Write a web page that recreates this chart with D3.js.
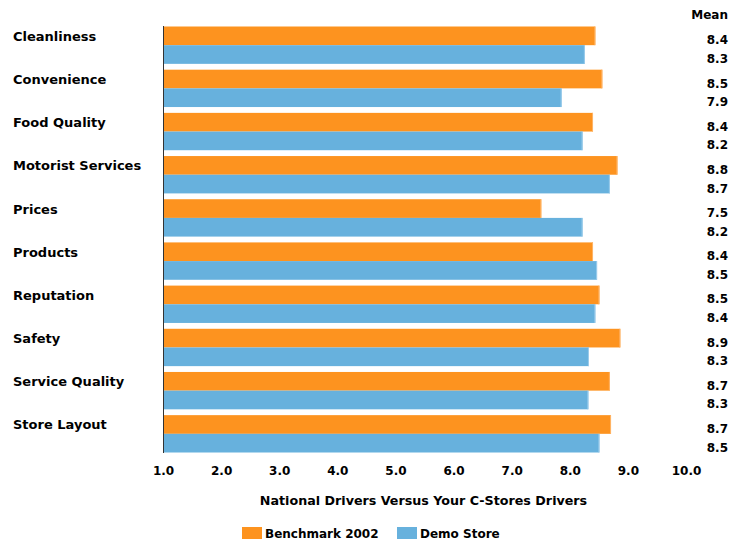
<!DOCTYPE html>
<html>
<head>
<meta charset="utf-8">
<script src="https://cdn.jsdelivr.net/npm/d3@7"></script>
<style>
  html, body { margin: 0; padding: 0; background: #fff; }
  svg text { font-family: "DejaVu Sans", Verdana, sans-serif; font-weight: bold; font-size: 12px; fill: #000; }
</style>
</head>
<body>
<svg id="chart" width="743" height="542"></svg>
<script>
const categories = ["Cleanliness", "Convenience", "Food Quality", "Motorist Services", "Prices",
  "Products", "Reputation", "Safety", "Service Quality", "Store Layout"];
const seriesNames = ["Benchmark 2002", "Demo Store"];
const benchmark = [8.44, 8.56, 8.40, 8.82, 7.51, 8.40, 8.51, 8.87, 8.69, 8.71];
const demoStore = [8.26, 7.86, 8.22, 8.69, 8.22, 8.47, 8.44, 8.33, 8.32, 8.51];
const benchmarkLabels = ["8.4", "8.5", "8.4", "8.8", "7.5", "8.4", "8.5", "8.9", "8.7", "8.7"];
const demoLabels = ["8.3", "7.9", "8.2", "8.7", "8.2", "8.5", "8.4", "8.3", "8.3", "8.5"];
const tickValues = [1, 2, 3, 4, 5, 6, 7, 8, 9, 10];
const colors = ["#FD931F", "#67B1DD"];
const strokeColors = ["#FFB466", "#9CCCEB"];
const axisTitle = "National Drivers Versus Your C-Stores Drivers";
const meanTitle = "Mean";

const svg = d3.select("#chart");
const x = d3.scaleLinear().domain([1, 10]).range([163, 686]);
const y = d3.scaleBand().domain(categories).range([26.5, 452.5]).paddingInner(0.135).paddingOuter(0);
const ySub = d3.scaleBand().domain(seriesNames).range([0, y.bandwidth()]).padding(0);

const rows = categories.map((c, i) => ({
  cat: c,
  vals: [
    { s: seriesNames[0], v: benchmark[i], label: benchmarkLabels[i], k: 0 },
    { s: seriesNames[1], v: demoStore[i], label: demoLabels[i], k: 1 }
  ]
}));

const g = svg.selectAll("g.row").data(rows).join("g")
  .attr("class", "row")
  .attr("transform", d => `translate(0,${y(d.cat)})`);

g.selectAll("rect").data(d => d.vals).join("rect")
  .attr("x", x(1))
  .attr("y", d => ySub(d.s))
  .attr("width", d => x(d.v) - x(1))
  .attr("height", ySub.bandwidth())
  .attr("fill", d => colors[d.k]);

g.selectAll("line.edge").data(d => d.vals).join("line")
  .attr("class", "edge")
  .attr("x1", d => x(d.v) - 0.5).attr("x2", d => x(d.v) - 0.5)
  .attr("y1", d => ySub(d.s)).attr("y2", d => ySub(d.s) + ySub.bandwidth())
  .attr("stroke", d => strokeColors[d.k]).attr("stroke-width", 1);

// category labels
g.append("text")
  .attr("x", 13)
  .attr("y", ySub(seriesNames[0]) + ySub.bandwidth() / 2 + 5)
  .style("font-size", "13px")
  .text(d => d.cat);

// mean value labels
g.selectAll("text.val").data(d => d.vals).join("text")
  .attr("class", "val")
  .attr("x", 728)
  .attr("text-anchor", "end")
  .attr("y", d => ySub(d.s) + ySub.bandwidth() / 2 + 8.5)
  .text(d => d.label);

svg.append("text").attr("x", 728).attr("y", 19).attr("text-anchor", "end").text(meanTitle);

// vertical axis line
const yAxis = d3.axisLeft(y).tickSize(0).tickFormat("");
svg.append("g").attr("transform", `translate(${x(1)},0)`).call(yAxis)
  .call(a => a.select(".domain").attr("d", `M0.5,26V453`).attr("stroke", "#333").attr("stroke-width", 1));

// bottom ticks
const xAxis = d3.axisBottom(x).tickValues(tickValues).tickSize(0).tickPadding(3).tickFormat(d3.format(".1f"));
svg.append("g").attr("transform", "translate(0,463.5)").call(xAxis)
  .call(a => a.select(".domain").remove())
  .call(a => a.selectAll("text")
    .style("font-family", "'DejaVu Sans', Verdana, sans-serif")
    .style("font-weight", "bold").style("font-size", "12px").attr("fill", "#000"));

svg.append("text").attr("x", (x(1) + x(10)) / 2 - 1).attr("y", 505).attr("text-anchor", "middle")
  .style("font-size", "12.7px").text(axisTitle);

// legend
const legendX = [242, 397];
const lg = svg.selectAll("g.legend").data(seriesNames).join("g")
  .attr("class", "legend")
  .attr("transform", (d, i) => `translate(${legendX[i]},527)`);
lg.append("rect").attr("width", 20).attr("height", 12).attr("fill", (d, i) => colors[i]);
lg.append("text").attr("x", 23).attr("y", 11).text(d => d);
</script>
</body>
</html>
